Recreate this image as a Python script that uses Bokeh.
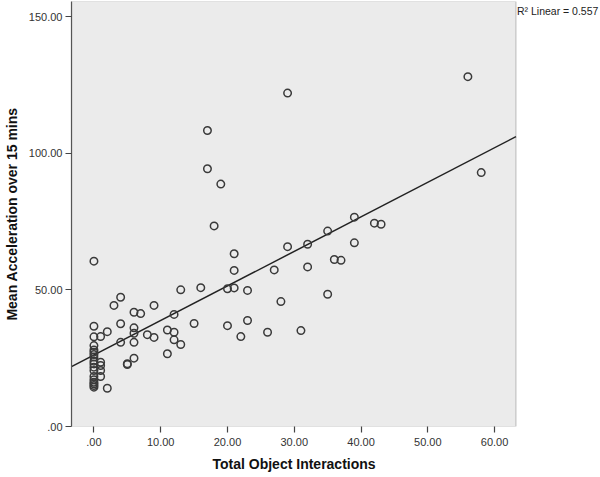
import numpy as np
from bokeh.plotting import figure
from bokeh.models import Range1d, FixedTicker, Label, BoxAnnotation, Title
from bokeh.embed import file_html
from bokeh.resources import INLINE

# ---- data ----
interactions = [0, 0, 0, 0, 0, 0, 0, 0, 0, 0, 0, 0, 0, 0, 0, 0, 0, 0,
                1, 1, 1, 1, 1,
                2, 2,
                3,
                4, 4, 4,
                5, 5,
                6, 6, 6, 6, 6,
                7, 8, 9, 9,
                11, 11,
                12, 12, 12,
                13, 13,
                15, 16, 17, 17, 18, 19,
                20, 20, 21, 21, 21, 22, 23, 23,
                26, 27, 28, 29, 29, 31, 32, 32,
                35, 35, 36, 37, 39, 39, 42, 43, 56, 58]
acceleration = [60.5, 36.7, 32.8, 29.6, 28.0, 27.2, 26.3, 25.4, 23.9, 22.9, 21.7, 20.5, 18.3, 17.1, 16.2, 15.6, 15.0, 14.4,
                32.9, 23.5, 22.3, 20.5, 18.3,
                34.7, 14.0,
                44.3,
                47.3, 37.6, 30.8,
                23.0, 22.7,
                41.8, 36.1, 34.1, 30.8, 25.0,
                41.3, 33.6, 44.3, 32.6,
                35.3, 26.6,
                41.0, 34.5, 31.7,
                50.0, 30.0,
                37.7, 50.8, 108.3, 94.3, 73.4, 88.7,
                50.4, 36.9, 63.2, 57.1, 50.7, 32.9, 49.8, 38.8,
                34.5, 57.3, 45.7, 122.0, 65.8, 35.1, 66.7, 58.4,
                71.5, 48.4, 61.1, 60.8, 76.6, 67.2, 74.4, 74.0, 128.0, 92.9]

x_ticks = [0, 10, 20, 30, 40, 50, 60]
x_tick_labels = [".00", "10.00", "20.00", "30.00", "40.00", "50.00", "60.00"]
y_ticks = [0, 50, 100, 150]
y_tick_labels = [".00", "50.00", "100.00", "150.00"]
x_title = "Total Object Interactions"
y_title = "Mean Acceleration over 15 mins"
r2_text = "R\u00b2 Linear = 0.557"

# least-squares fit line computed from the data
slope, intercept = np.polyfit(interactions, acceleration, 1)

FONT = "Liberation Sans"
X_MIN, X_MAX = -3.36, 63.2          # extent of the grey plot box
Y_MIN, Y_MAX = 0, 155.5
X_VIEW_MAX = 75.86                   # frame extends right to hold the R² note

p = figure(width=600, height=477, output_backend="svg", toolbar_location=None,
           x_range=Range1d(X_MIN, X_VIEW_MAX), y_range=Range1d(Y_MIN, Y_MAX),
           min_border_left=70, min_border_right=0, min_border_top=1, min_border_bottom=51,
           background_fill_color="white", border_fill_color="white")

p.outline_line_color = None
p.grid.visible = False

p.add_layout(BoxAnnotation(left=X_MIN, right=X_MAX, bottom=Y_MIN, top=Y_MAX,
                           fill_color="#ebebeb", fill_alpha=1.0,
                           line_color="#555555", line_width=1.2, level="underlay"))

for ax in (p.xaxis[0], p.yaxis[0]):
    ax.axis_line_color = "#555555"
    ax.axis_line_width = 1.2
    ax.major_tick_line_color = "#444444"
    ax.major_tick_line_width = 1.2
    ax.major_tick_out = 6
    ax.major_tick_in = 0
    ax.minor_tick_out = 0
    ax.minor_tick_in = 0
    ax.major_label_text_font = FONT
    ax.major_label_text_font_size = "11px"
    ax.major_label_text_color = "#333333"
    ax.axis_label_text_font = FONT
    ax.axis_label_text_font_size = "14px"
    ax.axis_label_text_font_style = "bold"
    ax.axis_label_text_color = "#111111"

p.xaxis.axis_line_color = None
p.xaxis.ticker = FixedTicker(ticks=x_ticks)
p.xaxis.major_label_overrides = dict(zip(x_ticks, x_tick_labels))
p.yaxis.ticker = FixedTicker(ticks=y_ticks)
p.yaxis.major_label_overrides = dict(zip(y_ticks, y_tick_labels))
p.yaxis.axis_label = y_title
p.xaxis.major_label_standoff = 5
p.yaxis.major_label_standoff = 3
p.yaxis.axis_label_standoff = 6

# x-axis title, centred under the grey plot box (not the whole frame)
p.add_layout(Title(text=x_title, align="left", offset=141, standoff=10,
                   text_font=FONT, text_font_size="14px", text_font_style="bold",
                   text_color="#111111"), "below")

# fit line across the plot box
fit_x = [X_MIN, X_MAX]
fit_y = [intercept + slope * X_MIN, intercept + slope * X_MAX]
p.line(fit_x, fit_y, line_color="#222222", line_width=1.5)

p.scatter(interactions, acceleration, marker="circle", size=7.5,
          fill_color=None, line_color="#3a3a3a", line_width=1.5)

p.add_layout(Label(x=X_MAX, y=Y_MAX, x_units="data", y_units="data", text=r2_text,
                   x_offset=1, y_offset=-3, text_baseline="top", text_align="left",
                   text_font=FONT, text_font_size="10.5px", text_color="#222222"))

open("out.html", "w").write(file_html(p, INLINE))
